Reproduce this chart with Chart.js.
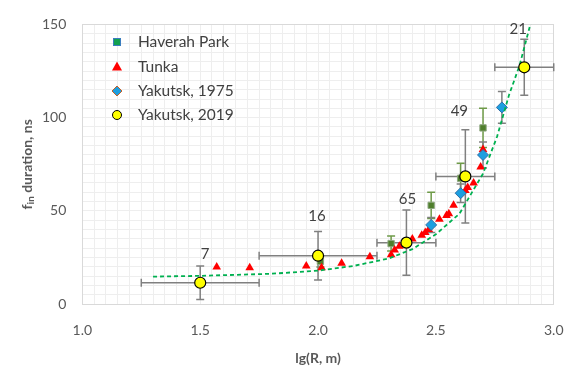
<!DOCTYPE html>
<html>
<head>
<meta charset="utf-8">
<script src="https://cdn.jsdelivr.net/npm/chart.js@4/dist/chart.umd.min.js"></script>
<style>
html,body{margin:0;padding:0;background:#fff;}
#wrap{position:relative;width:581px;height:375px;}
</style>
</head>
<body>
<div id="wrap"><canvas id="c" width="581" height="375"></canvas></div>
<script>
// ---------- DATA ----------
const haverahX   = [2.01, 2.31, 2.48, 2.605, 2.70];
const haverahY   = [23, 32.5, 53, 67.5, 94.5];
const haverahErr = [3, 4, 7, 8, 10.5];

const tunkaX = [1.57, 1.71, 1.95, 2.015, 2.10, 2.22, 2.31, 2.325, 2.345, 2.40, 2.44, 2.455, 2.47, 2.515, 2.545, 2.555, 2.575, 2.625, 2.635, 2.66, 2.69, 2.70];
const tunkaY = [20, 19.5, 20.5, 19.5, 22, 25.5, 26.5, 29, 31, 35, 37, 38.5, 40, 45.5, 47.5, 48.5, 53, 61, 62.5, 65, 73.5, 83];

const yak1975X   = [2.48, 2.605, 2.70, 2.78];
const yak1975Y   = [42.5, 59.5, 80, 105.5];
const yak1975Err = [4, 5, 7, 8.5];

const yak2019X    = [1.5, 2.0, 2.375, 2.625, 2.875];
const yak2019Y    = [11.5, 26, 33, 68.5, 127];
const yak2019YErr = [9, 13, 17.5, 25, 15];
const yak2019XErr = [0.25, 0.25, 0.125, 0.125, 0.125];
const yak2019Labels = ['7', '16', '65', '49', '21'];

const fitX = [1.30, 1.50, 1.80, 2.00, 2.15, 2.30, 2.40, 2.50, 2.60, 2.70, 2.76, 2.81, 2.855, 2.905];
const fitY = [14.8, 15.2, 16.3, 18, 20.5, 24.5, 29.5, 37.5, 48.5, 70, 90, 112, 128, 152];

const seriesNames = ['Haverah Park', 'Tunka', 'Yakutsk, 1975', 'Yakutsk, 2019'];
const xTitle = 'lg(R, m)';
const yTitleParts = ['f', 'in', ' duration, ns'];

// ---------- helpers ----------
const pts = (xs, ys) => xs.map((x, i) => ({x: x, y: ys[i]}));
const FONT = 'Lato, "Open Sans", sans-serif';
const TXT = '#404040';
const AX = '#595959';

// label pixel offsets (style)
const labelOffsets = [[5, -29], [-1, -40], [1, -43], [-6, -65], [-6, -38]];

const errorBarPlugin = {
  id: 'errbars',
  beforeDatasetsDraw(chart) {
    const xs = chart.scales.x, ys = chart.scales.y, ctx = chart.ctx;
    const cap = 4;
    function vbar(x, y, e, color) {
      const px = xs.getPixelForValue(x);
      const p1 = ys.getPixelForValue(y + e), p2 = ys.getPixelForValue(y - e);
      ctx.strokeStyle = color; ctx.lineWidth = 1.5;
      ctx.beginPath();
      ctx.moveTo(px, p1); ctx.lineTo(px, p2);
      ctx.moveTo(px - cap, p1); ctx.lineTo(px + cap, p1);
      ctx.moveTo(px - cap, p2); ctx.lineTo(px + cap, p2);
      ctx.stroke();
    }
    function hbar(x, y, e, color) {
      const py = ys.getPixelForValue(y);
      const p1 = xs.getPixelForValue(x - e), p2 = xs.getPixelForValue(x + e);
      ctx.strokeStyle = color; ctx.lineWidth = 1.5;
      ctx.beginPath();
      ctx.moveTo(p1, py); ctx.lineTo(p2, py);
      ctx.moveTo(p1, py - cap); ctx.lineTo(p1, py + cap);
      ctx.moveTo(p2, py - cap); ctx.lineTo(p2, py + cap);
      ctx.stroke();
    }
    ctx.save();
    haverahX.forEach((x, i) => vbar(x, haverahY[i], haverahErr[i], '#6E9A48'));
    yak1975X.forEach((x, i) => vbar(x, yak1975Y[i], yak1975Err[i], '#808080'));
    yak2019X.forEach((x, i) => {
      vbar(x, yak2019Y[i], yak2019YErr[i], '#808080');
      hbar(x, yak2019Y[i], yak2019XErr[i], '#808080');
    });
    ctx.restore();
  }
};

const textPlugin = {
  id: 'texts',
  afterDraw(chart) {
    const xs = chart.scales.x, ys = chart.scales.y, ctx = chart.ctx;
    const ca = chart.chartArea;
    ctx.save();
    // data labels
    ctx.font = '15px ' + FONT;
    ctx.fillStyle = TXT;
    ctx.textAlign = 'center';
    ctx.textBaseline = 'middle';
    yak2019X.forEach((x, i) => {
      const o = labelOffsets[i];
      ctx.fillText(yak2019Labels[i], xs.getPixelForValue(x) + o[0], ys.getPixelForValue(yak2019Y[i]) + o[1]);
    });
    // x title
    ctx.fillStyle = AX;
    ctx.font = 'bold 14px ' + FONT;
    ctx.fillText(xTitle, (ca.left + ca.right) / 2, 358);
    // legend
    const lx = 117, tx = 138, rows = [42, 66.5, 91, 115];
    ctx.textAlign = 'left';
    ctx.font = '15.5px ' + FONT;
    rows.forEach((ry, i) => {
      ctx.fillStyle = TXT;
      ctx.fillText(seriesNames[i], tx, ry);
      ctx.lineWidth = 1;
      if (i === 0) {
        ctx.fillStyle = '#12A050'; ctx.strokeStyle = '#3A7DBF';
        ctx.fillRect(lx - 3.5, ry - 3.5, 7, 7); ctx.strokeRect(lx - 3.5, ry - 3.5, 7, 7);
      } else if (i === 1) {
        ctx.fillStyle = '#FF0000';
        ctx.beginPath(); ctx.moveTo(lx, ry - 5); ctx.lineTo(lx + 5, ry + 4); ctx.lineTo(lx - 5, ry + 4); ctx.closePath(); ctx.fill();
      } else if (i === 2) {
        ctx.fillStyle = '#1C9FE0'; ctx.strokeStyle = '#C0602A';
        ctx.beginPath(); ctx.moveTo(lx, ry - 5); ctx.lineTo(lx + 5, ry); ctx.lineTo(lx, ry + 5); ctx.lineTo(lx - 5, ry); ctx.closePath(); ctx.fill(); ctx.stroke();
      } else {
        ctx.fillStyle = '#FFFF00'; ctx.strokeStyle = '#000';
        ctx.beginPath(); ctx.arc(lx, ry, 4.5, 0, Math.PI * 2); ctx.fill(); ctx.stroke();
      }
    });
    // y title with subscript
    ctx.translate(27, (ca.top + ca.bottom) / 2);
    ctx.rotate(-Math.PI / 2);
    ctx.fillStyle = AX;
    ctx.textAlign = 'left';
    ctx.textBaseline = 'middle';
    const big = 'bold 14px ' + FONT, small = 'bold 10px ' + FONT;
    ctx.font = big; const w0 = ctx.measureText(yTitleParts[0]).width;
    ctx.font = small; const w1 = ctx.measureText(yTitleParts[1]).width;
    ctx.font = big; const w2 = ctx.measureText(yTitleParts[2]).width;
    let sx = -(w0 + w1 + w2) / 2;
    ctx.font = big; ctx.fillText(yTitleParts[0], sx, 0); sx += w0;
    ctx.font = small; ctx.fillText(yTitleParts[1], sx, 4); sx += w1;
    ctx.font = big; ctx.fillText(yTitleParts[2], sx, 0);
    ctx.restore();
  }
};

new Chart(document.getElementById('c'), {
  type: 'scatter',
  data: {
    datasets: [
      { label: seriesNames[3], data: pts(yak2019X, yak2019Y), order: 0,
        pointStyle: 'circle', pointRadius: 5.5, pointHoverRadius: 5.5,
        backgroundColor: '#FFFF00', borderColor: '#000000', borderWidth: 1.2 },
      { label: 'fit', type: 'line', data: pts(fitX, fitY), order: 1,
        borderColor: '#00B050', borderWidth: 1.8, borderDash: [4, 3],
        pointRadius: 0, fill: false, tension: 0, showLine: true },
      { label: seriesNames[2], data: pts(yak1975X, yak1975Y), order: 2,
        pointStyle: 'rectRot', pointRadius: 5.5, pointHoverRadius: 5.5,
        backgroundColor: '#1C9FE0', borderColor: '#2F6EA8', borderWidth: 1 },
      { label: seriesNames[1], data: pts(tunkaX, tunkaY), order: 3,
        pointStyle: 'triangle', pointRadius: 5, pointHoverRadius: 5,
        backgroundColor: '#FF0000', borderColor: '#FF0000', borderWidth: 0 },
      { label: seriesNames[0], data: pts(haverahX, haverahY), order: 4,
        pointStyle: 'rect', pointRadius: 4.5, pointHoverRadius: 4.5,
        backgroundColor: '#4F7F2C', borderColor: '#8FA882', borderWidth: 1 }
    ]
  },
  options: {
    responsive: false,
    animation: false,
    events: [],
    layout: { autoPadding: false, padding: { left: 26, right: 24, top: 12, bottom: 19 } },
    plugins: { legend: { display: false }, tooltip: { enabled: false } },
    scales: {
      x: {
        type: 'linear', min: 1, max: 3, position: 'bottom',
        ticks: { stepSize: 0.5, padding: 17.5, color: AX, font: { family: FONT, size: 14 },
                 callback: v => Number(v).toFixed(1) },
        grid: { color: '#D9D9D9', drawTicks: false, lineWidth: 1 },
        border: { color: '#D9D9D9' }
      },
      y: {
        type: 'linear', min: 0, max: 150, position: 'left',
        ticks: { stepSize: 50, padding: 16, color: AX, font: { family: FONT, size: 14 } },
        grid: { color: '#D9D9D9', drawTicks: false, lineWidth: 1 },
        border: { color: '#D9D9D9' }
      },
      x2: {
        type: 'linear', min: 1, max: 3, position: 'top', z: -1,
        ticks: { display: false, stepSize: 0.05, maxTicksLimit: 100 },
        grid: { color: '#EEEEEE', drawTicks: false },
        border: { color: '#D9D9D9' }
      },
      y2: {
        type: 'linear', min: 0, max: 150, position: 'right', z: -1,
        ticks: { display: false, stepSize: 5, maxTicksLimit: 100 },
        grid: { color: '#EEEEEE', drawTicks: false },
        border: { color: '#D9D9D9' }
      }
    }
  },
  plugins: [errorBarPlugin, textPlugin]
});
</script>
</body>
</html>
